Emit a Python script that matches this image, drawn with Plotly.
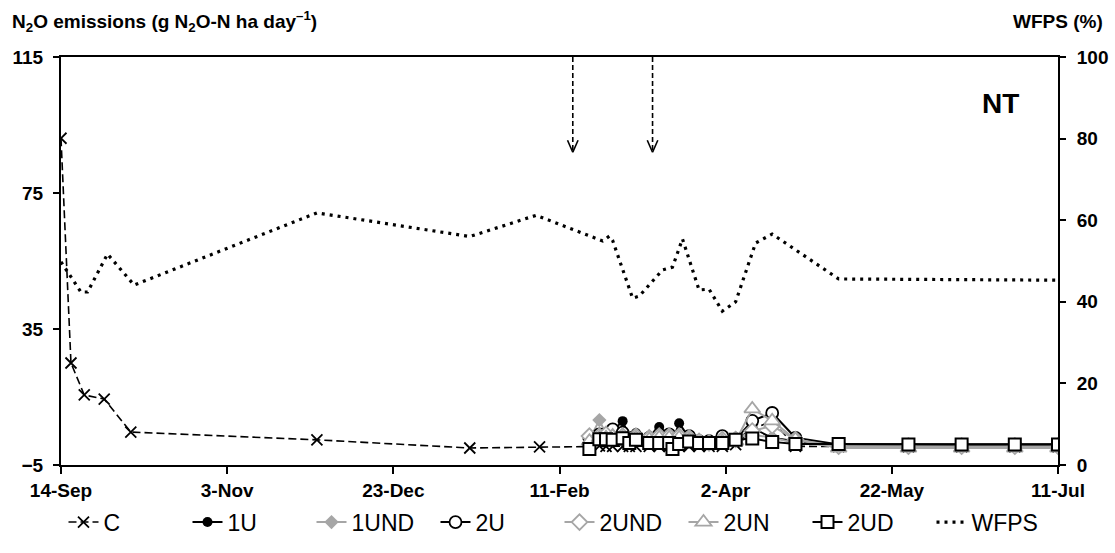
import pandas as pd
import plotly.graph_objects as go

FONT = "Liberation Sans"
GREY = "#A6A6A6"

# ---- N2O fluxes, control plot (early autumn sampling) ----
c_dates_early = ["2013-09-14", "2013-09-17", "2013-09-21", "2013-09-27",
                 "2013-10-05", "2013-11-30", "2014-01-15", "2014-02-05"]
c_early = [91.1, 25.0, 15.6, 14.4, 4.7, 2.4, 0.0, 0.3]

# ---- intensive sampling after fertiliser application ----
s_dates = ["2014-02-20", "2014-02-23", "2014-02-25", "2014-02-27", "2014-03-02",
           "2014-03-04", "2014-03-06", "2014-03-10", "2014-03-13", "2014-03-16",
           "2014-03-17", "2014-03-19", "2014-03-22", "2014-03-25", "2014-03-28",
           "2014-04-01", "2014-04-05", "2014-04-10", "2014-04-16", "2014-04-23",
           "2014-05-06", "2014-05-27", "2014-06-12", "2014-06-28", "2014-07-11"]

c_late = [0.6, 0.6, 0.5, 0.5, 0.5, 0.5, 0.5, 0.5, 0.5, 0.5, 0.5, 0.5, 0.5,
          0.5, 0.5, 0.5, 1.0, 5.5, 8.0, 0.5, 0.4, 0.3, 0.3, 0.3, 0.3]
u1 = [2.0, 3.0, 3.5, 5.0, 7.9, 3.5, 4.4, 3.0, 6.2, 3.0, 2.0, 7.3, 3.0,
      2.0, 1.5, 2.0, 2.0, 5.9, 3.0, 2.0, 1.0, 1.0, 1.0, 1.0, 1.0]
und1 = [2.5, 8.2, 4.0, 3.5, 4.0, 2.5, 3.5, 2.5, 3.5, 2.5, 2.0, 3.5, 3.0,
        2.0, 1.5, 2.0, 3.0, 4.0, 3.0, 1.5, 0.5, 0.5, 0.5, 0.5, 0.5]
u2 = [3.0, 4.0, 4.0, 5.5, 4.5, 3.0, 3.5, 3.0, 4.0, 4.0, 2.0, 3.0, 3.5,
      2.0, 2.0, 3.5, 2.5, 8.0, 10.3, 3.0, 1.0, 1.0, 1.0, 1.0, 1.0]
und2 = [3.5, 3.5, 4.0, 3.0, 3.5, 2.5, 3.5, 3.0, 3.5, 3.5, 2.0, 3.5, 3.0,
        2.0, 1.5, 2.5, 2.5, 5.0, 6.5, 2.5, 0.5, 0.5, 0.5, 0.5, 0.5]
un2 = [2.0, 3.0, 3.0, 3.5, 3.0, 2.0, 3.0, 2.5, 3.0, 3.0, 1.5, 3.0, 2.5,
       1.5, 1.0, 2.0, 2.0, 11.5, 8.0, 2.5, 0.0, 0.0, 0.0, 0.0, 0.0]
ud2 = [-0.3, 2.6, 2.6, 2.4, 2.9, 1.5, 2.4, 1.5, 1.5, 1.5, -0.3, 1.2, 1.9,
       1.5, 1.5, 1.5, 2.4, 2.8, 1.8, 1.2, 1.2, 1.0, 1.0, 1.0, 1.0]

# ---- water-filled pore space (right axis) ----
w_dates = ["2013-09-14", "2013-09-20", "2013-09-22", "2013-09-28", "2013-10-06",
           "2013-11-30", "2014-01-15", "2014-02-04", "2014-02-24", "2014-02-26",
           "2014-02-27", "2014-03-05", "2014-03-07", "2014-03-14", "2014-03-17",
           "2014-03-20", "2014-03-25", "2014-03-28", "2014-04-01", "2014-04-05",
           "2014-04-11", "2014-04-16", "2014-05-06", "2014-07-11"]
wfps = [49.8, 42.4, 42.4, 51.7, 44.1, 61.8, 56.0, 61.2, 54.9, 56.1, 55.0, 40.9,
        41.4, 47.8, 48.5, 55.4, 42.9, 43.1, 37.7, 40.0, 54.4, 56.6, 45.6, 45.3]

# fertiliser application dates and the level the arrows point to
fert_dates = ["2014-02-15", "2014-03-11"]
arrow_tip = 87

x_ticks = ["2013-09-14", "2013-11-03", "2013-12-23", "2014-02-11",
           "2014-04-02", "2014-05-22", "2014-07-11"]
y_ticks = [-5, 35, 75, 115]
y2_ticks = [0, 20, 40, 60, 80, 100]

fig = go.Figure()

fig.add_trace(go.Scatter(
    x=c_dates_early + s_dates, y=c_early + c_late, name="C", mode="lines+markers",
    line=dict(color="black", width=1.6, dash="8px,4px"),
    marker=dict(symbol="x-thin-open", size=11, color="black",
                line=dict(color="black", width=1.8))))

fig.add_trace(go.Scatter(
    x=s_dates, y=u1, name="1U", mode="lines+markers",
    line=dict(color="black", width=2),
    marker=dict(symbol="circle", size=10, color="black")))

fig.add_trace(go.Scatter(
    x=s_dates, y=und1, name="1UND", mode="lines+markers",
    line=dict(color=GREY, width=2),
    marker=dict(symbol="diamond", size=11, color=GREY)))

fig.add_trace(go.Scatter(
    x=s_dates, y=u2, name="2U", mode="lines+markers",
    line=dict(color="black", width=2),
    marker=dict(symbol="circle", size=12, color="white",
                line=dict(color="black", width=1.8))))

fig.add_trace(go.Scatter(
    x=s_dates, y=und2, name="2UND", mode="lines+markers",
    line=dict(color=GREY, width=2),
    marker=dict(symbol="diamond", size=12, color="white",
                line=dict(color=GREY, width=1.8))))

fig.add_trace(go.Scatter(
    x=s_dates, y=un2, name="2UN", mode="lines+markers",
    line=dict(color=GREY, width=2),
    marker=dict(symbol="triangle-up", size=14, color="white",
                line=dict(color=GREY, width=1.8))))

fig.add_trace(go.Scatter(
    x=s_dates, y=ud2, name="2UD", mode="lines+markers",
    line=dict(color="black", width=2),
    marker=dict(symbol="square", size=12, color="white",
                line=dict(color="black", width=2))))

fig.add_trace(go.Scatter(
    x=w_dates, y=wfps, name="WFPS", mode="lines", yaxis="y2",
    line=dict(color="black", width=3.2, dash="3px,5px")))

# dashed arrows marking fertiliser applications
half_w = pd.Timedelta(hours=38)
for d in fert_dates:
    t = pd.Timestamp(d)
    fig.add_shape(type="line", xref="x", yref="y", x0=t, x1=t,
                  y0=y_ticks[-1], y1=arrow_tip,
                  line=dict(color="black", width=1.6, dash="5px,3px"))
    for side in (-1, 1):
        fig.add_shape(type="line", xref="x", yref="y",
                      x0=t + side * half_w, y0=arrow_tip + 3.5, x1=t, y1=arrow_tip,
                      line=dict(color="black", width=1.6))

axis_font = dict(family=FONT, size=19, color="black", weight="bold")

fig.update_layout(
    width=1115, height=553,
    margin=dict(l=61, r=57, t=57, b=88, autoexpand=False),
    paper_bgcolor="white", plot_bgcolor="white",
    font=dict(family=FONT, color="black"),
    xaxis=dict(type="date", range=[x_ticks[0], x_ticks[-1]],
               tickvals=x_ticks, tickformat="%-d-%b", tickfont=axis_font,
               showgrid=False, zeroline=False, showline=True, mirror=True,
               linecolor="black", linewidth=2, ticks="outside",
               ticklen=7, tickwidth=2, tickcolor="black"),
    yaxis=dict(range=[y_ticks[0], y_ticks[-1]], tickvals=y_ticks,
               tickfont=axis_font, showgrid=False, zeroline=False,
               showline=True, linecolor="black", linewidth=2,
               ticks="outside", ticklen=6, tickwidth=2, tickcolor="black",
               ticklabelstandoff=6),
    yaxis2=dict(overlaying="y", side="right", range=[0, 100],
                tickvals=y2_ticks, tickfont=axis_font, showgrid=False,
                zeroline=False, showline=True, linecolor="black",
                linewidth=2, ticks="outside", ticklen=6, tickwidth=2,
                tickcolor="black", ticklabelstandoff=7),
    legend=dict(orientation="h", x=0.5, xanchor="center", y=-0.14,
                yanchor="middle", font=dict(family=FONT, size=23),
                entrywidth=79, bgcolor="rgba(0,0,0,0)"),
    showlegend=True,
    annotations=[
        dict(text="N<sub>2</sub>O emissions (g N<sub>2</sub>O-N ha day<sup>\u20131</sup>)",
             xref="paper", yref="paper", x=-0.0512, y=1.086,
             xanchor="left", yanchor="middle", showarrow=False,
             font=dict(family=FONT, size=19, weight="bold")),
        dict(text="WFPS (%)", xref="paper", yref="paper", x=1.047, y=1.086,
             xanchor="right", yanchor="middle", showarrow=False,
             font=dict(family=FONT, size=19, weight="bold")),
        dict(text="NT", xref="paper", yref="paper", x=0.942, y=0.887,
             xanchor="center", yanchor="middle", showarrow=False,
             font=dict(family=FONT, size=28, weight="bold")),
    ],
)

fig.write_html("out.html")
